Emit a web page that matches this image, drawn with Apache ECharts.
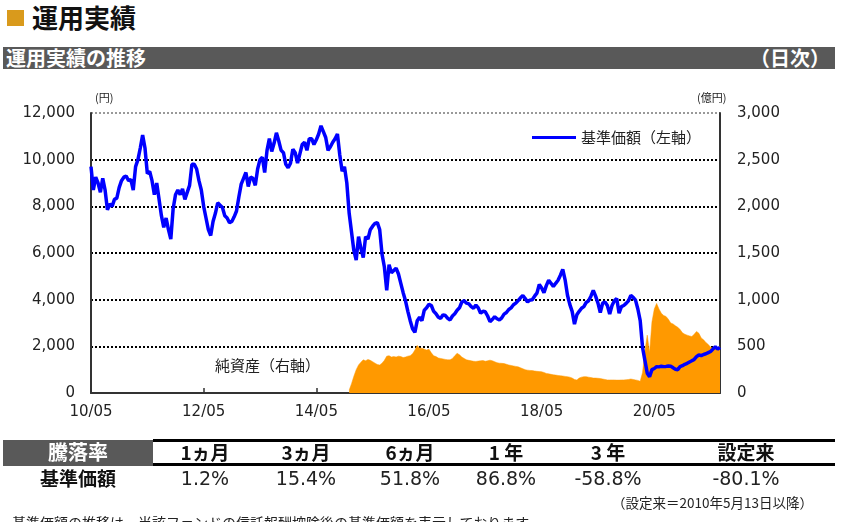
<!DOCTYPE html>
<html>
<head>
<meta charset="utf-8">
<script src="https://cdn.jsdelivr.net/npm/echarts@6/dist/echarts.min.js"></script>
<style>
  html, body { margin: 0; padding: 0; background: #fff; }
  body { width: 858px; height: 522px; overflow: hidden; position: relative;
         font-family: "Noto Sans CJK JP", sans-serif; color: #111; }
  .abs { position: absolute; white-space: nowrap; }
  #chart { position: absolute; left: 0; top: 0; width: 858px; height: 522px; }
  .num { font-family: "DejaVu Sans", sans-serif; }
</style>
</head>
<body>
<div class="abs" style="left:7px;top:10px;width:17px;height:16px;background:#d99a1c;"></div>
<div class="abs" style="left:32px;top:0px;font-size:26px;font-weight:bold;line-height:34px;">運用実績</div>
<div class="abs" style="left:3px;top:47px;width:832px;height:22px;background:#595959;"></div>
<div class="abs" style="left:6px;top:46px;font-size:20px;font-weight:bold;color:#fff;line-height:24px;">運用実績の推移</div>
<div class="abs" style="left:750px;top:46px;font-size:20px;font-weight:bold;color:#fff;line-height:24px;">（日次）</div>

<div id="chart"></div>

<div id="table"></div>

<script>
// 基準価額（円） 半月ごと 2010/05〜2021/07
var priceData = [
  9700, 8700, 9250, 9000, 8600, 9200, 8700, 7850, 8100, 8000,
  8300, 8350, 8800, 9100, 9250, 9300, 9100, 9150, 8700, 9700,
  10000, 10500, 11050, 10500, 9400, 9500, 9100, 8500, 9000, 8300,
  7600, 7100, 7500, 7000, 6600, 7900, 8500, 8700, 8500, 8750,
  8300, 8600, 8900, 9800, 9800, 9600, 9100, 8700, 8000, 7500,
  7000, 6750, 7350, 7700, 8150, 8050, 7950, 7600, 7500, 7300,
  7350, 7550, 7800, 8400, 8950, 9200, 9450, 8850, 9250, 9200,
  8900, 9600, 10000, 10100, 9450, 10400, 10900, 10350, 10700, 11150,
  10800, 10400, 10300, 9800, 9650, 9850, 10450, 10300, 9850, 10250,
  10650, 10750, 10400, 10900, 10900, 10650, 10850, 11100, 11450, 11200,
  10950, 10400, 10550, 10750, 10900, 11100, 10200, 9500, 9700, 9000,
  7700, 6900, 6100, 5700, 6700, 6200, 5800, 6700, 6600, 7000,
  7150, 7270, 7300, 7000, 5950, 5400, 4400, 5500, 5150, 5250,
  5350, 5100, 4700, 4300, 3950, 3500, 3100, 2750, 2600, 3100,
  3250, 3100, 3550, 3650, 3800, 3750, 3500, 3400, 3250, 3200,
  3350, 3320, 3200, 3130, 3300, 3400, 3550, 3650, 3900, 3950,
  3850, 3820, 3700, 3630, 3770, 3650, 3420, 3500, 3480, 3300,
  3060, 3150, 3270, 3180, 3130, 3220, 3380, 3450, 3580, 3650,
  3780, 3850, 3960, 4080, 4180, 4050, 3900, 3980, 4000, 4150,
  4280, 4650, 4500, 4300, 4600, 4830, 4700, 4560, 4700, 4830,
  5050, 5300, 4850, 4200, 3800, 3500, 2950, 3350, 3500, 3630,
  3700, 3880, 3950, 4150, 4400, 4150, 3850, 3450, 3850, 3900,
  3750, 3380, 3750, 3950, 4050, 3420, 3700, 3750, 3840, 3950,
  4180, 4100, 3980, 3600, 3100, 1950, 1400, 850, 700, 1000,
  1050, 1130, 1120, 1150, 1130, 1140, 1160, 1150, 1080, 1020,
  1000, 1130, 1170, 1230, 1270, 1330, 1380, 1440, 1560, 1630,
  1600, 1650, 1680, 1730, 1780, 1880, 1980, 1880, 1960
];
// 純資産（億円）
var assetData = [
  null, null, null, null, null, null, null, null, null, null,
  null, null, null, null, null, null, null, null, null, null,
  null, null, null, null, null, null, null, null, null, null,
  null, null, null, null, null, null, null, null, null, null,
  null, null, null, null, null, null, null, null, null, null,
  null, null, null, null, null, null, null, null, null, null,
  null, null, null, null, null, null, null, null, null, null,
  null, null, null, null, null, null, null, null, null, null,
  null, null, null, null, null, null, null, null, null, null,
  null, null, null, null, null, null, null, null, null, null,
  null, null, null, null, null, null, null, null, null, null,
  30, 100, 180, 250, 300, 330, 355, 345, 360, 350,
  335, 320, 305, 300, 320, 350, 395, 400, 385, 390,
  385, 395, 390, 380, 385, 395, 400, 420, 460, 510,
  480, 480, 470, 460, 470, 430, 400, 390, 375, 370,
  365, 360, 355, 355, 370, 400, 425, 410, 385, 370,
  355, 350, 345, 340, 338, 342, 345, 348, 340, 345,
  352, 345, 335, 325, 320, 318, 315, 308, 300, 295,
  290, 285, 280, 270, 260, 250, 245, 242, 240, 236,
  232, 230, 228, 220, 210, 205, 200, 195, 192, 188,
  185, 182, 178, 175, 170, 160, 145, 140, 160, 170,
  175, 175, 170, 165, 160, 160, 158, 155, 150, 145,
  140, 140, 140, 140, 138, 138, 140, 140, 142, 145,
  150, 145, 140, 135, 125, 220, 450, 620, 430, 760,
  900, 960, 900, 855, 830, 820, 790, 750, 740, 720,
  705, 680, 645, 630, 620, 612, 605, 630, 660, 640,
  590, 570, 540, 520, 490, 480, 480, 475, 500
];
var tableHeads = ['1ヵ月', '3ヵ月', '6ヵ月', '1 年', '3 年', '設定来'];
var tableValues = ['1.2%', '15.4%', '51.8%', '86.8%', '-58.8%', '-80.1%'];
var tableCenters = [205, 306, 410, 506, 608, 746];

// 半月ごとのカテゴリ（YY/MM/DD）
var dates = [];
for (var y = 2010, m = 5; dates.length < priceData.length; m++) {
    if (m > 12) { m = 1; y++; }
    var ym = String(y).slice(2) + '/' + (m < 10 ? '0' + m : m);
    dates.push(ym + '/01');
    if (dates.length < priceData.length) dates.push(ym + '/16');
}

function comma(v) { return String(v).replace(/\B(?=(\d{3})+(?!\d))/g, ','); }

var numFont = 'DejaVu Sans';
var jpFont = 'Noto Sans CJK JP';

var chart = echarts.init(document.getElementById('chart'));
chart.setOption({
    animation: false,
    grid: { left: 91, right: 138, top: 113, bottom: 129 },
    legend: {
        data: ['基準価額（左軸）'],
        left: 527, top: 125,
        icon: 'rect', itemWidth: 44, itemHeight: 3, itemGap: 4,
        textStyle: { fontSize: 15, fontFamily: jpFont, color: '#222' }
    },
    xAxis: {
        type: 'category',
        data: dates,
        boundaryGap: false,
        axisLine: { lineStyle: { color: '#333', width: 2 } },
        axisTick: { inside: true, length: 5, interval: 47, lineStyle: { color: '#333', width: 1.5 } },
        axisLabel: {
            interval: 47, fontSize: 15, margin: 12, color: '#222', fontFamily: numFont,
            formatter: function (v) { return v.slice(0, 5); }
        },
        splitLine: { show: false }
    },
    yAxis: [{
        type: 'value', min: 0, max: 12000, interval: 2000,
        axisLine: { show: true, lineStyle: { color: '#333', width: 2 } },
        axisTick: { show: false },
        axisLabel: { fontSize: 15, margin: 16, color: '#222', fontFamily: numFont, formatter: comma },
        splitLine: { lineStyle: { type: [2, 2], width: 2, color: ['#000', '#000', '#000', '#000', '#000', '#000', '#999'] } }
    }, {
        type: 'value', min: 0, max: 3000, interval: 500, position: 'right',
        axisLine: { show: true, lineStyle: { color: '#333', width: 2 } },
        axisTick: { show: false },
        axisLabel: { fontSize: 15, margin: 17, color: '#222', fontFamily: numFont, formatter: comma },
        splitLine: { show: false }
    }],
    graphic: [
        { type: 'text', left: 95, top: 92, style: { text: '(円)', fontSize: 11, fontFamily: jpFont, fill: '#222' } },
        { type: 'text', left: 697, top: 92, style: { text: '(億円)', fontSize: 11, fontFamily: jpFont, fill: '#222' } },
        { type: 'text', left: 215, top: 358, style: { text: '純資産（右軸）', fontSize: 15, fontFamily: jpFont, fill: '#222' } }
    ],
    series: [{
        name: '純資産（右軸）',
        type: 'line',
        yAxisIndex: 1,
        data: assetData,
        symbol: 'none',
        silent: true,
        lineStyle: { width: 0.5, color: '#ff9900' },
        itemStyle: { color: '#ff9900' },
        areaStyle: { color: '#ff9900', opacity: 1 },
        z: 1
    }, {
        name: '基準価額（左軸）',
        type: 'line',
        yAxisIndex: 0,
        data: priceData,
        symbol: 'none',
        lineStyle: { width: 3.5, color: '#0000ff' },
        itemStyle: { color: '#0000ff' },
        z: 3
    }]
});

// 騰落率テーブル
var html = '';
html += '<div class="abs" style="left:3px;top:440px;width:150px;height:26px;background:#595959;"></div>';
html += '<div class="abs" style="left:3px;top:439px;width:150px;text-align:center;font-size:20px;font-weight:bold;color:#fff;line-height:26px;">騰落率</div>';
html += '<div class="abs" style="left:153px;top:439px;width:682px;height:3px;background:#000;"></div>';
html += '<div class="abs" style="left:153px;top:463px;width:682px;height:3px;background:#000;"></div>';
html += '<div class="abs" style="left:3px;top:465px;width:150px;text-align:center;font-size:19px;font-weight:bold;line-height:26px;">基準価額</div>';
for (var i = 0; i < tableHeads.length; i++) {
    html += '<div class="abs" style="left:' + (tableCenters[i] - 50) + 'px;top:440px;width:100px;text-align:center;font-size:19px;font-weight:bold;line-height:24px;">' + tableHeads[i] + '</div>';
    html += '<div class="abs num" style="left:' + (tableCenters[i] - 55) + 'px;top:465px;width:110px;text-align:center;font-size:19px;line-height:26px;color:#222;">' + tableValues[i] + '</div>';
}
html += '<div class="abs" style="left:612px;top:493px;font-size:13.5px;line-height:18px;color:#222;">（設定来＝2010年5月13日以降）</div>';
html += '<div class="abs" style="left:12px;top:513px;font-size:14px;line-height:18px;color:#222;">基準価額の推移は、当該ファンドの信託報酬控除後の基準価額を表示しております。</div>';
document.getElementById('table').innerHTML = html;
</script>
</body>
</html>
